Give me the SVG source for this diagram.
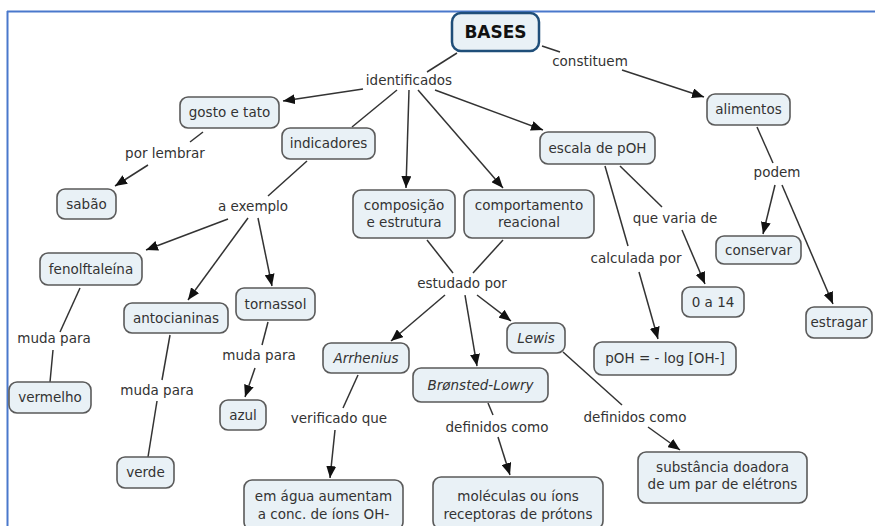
<svg xmlns="http://www.w3.org/2000/svg" width="875" height="526" viewBox="0 0 875 526">
<defs>
<marker id="ah" markerUnits="userSpaceOnUse" markerWidth="12" markerHeight="10" refX="12" refY="5" orient="auto">
<path d="M0,0 L12,5 L0,10 z" fill="#111"/>
</marker>
<style>
.n rect{fill:#e9f1f6;stroke:#5a5a5a;stroke-width:1.6}
text{font-family:"DejaVu Sans","Verdana",sans-serif;font-size:13.5px;fill:#333;text-anchor:middle}
.i text{font-style:italic}
#c line{stroke:#333;stroke-width:1.5}
#c line.a{marker-end:url(#ah)}
</style>
</defs>
<rect x="0" y="0" width="875" height="526" fill="#fff"/>
<line x1="7" y1="11.5" x2="875" y2="11.5" stroke="#4a78cc" stroke-width="2"/>
<line x1="7.5" y1="11" x2="7.5" y2="526" stroke="#4a78cc" stroke-width="2"/>

<g id="c">
<line x1="457" y1="53" x2="427" y2="72"/>
<line class="a" x1="363" y1="89" x2="283" y2="101"/>
<line x1="397" y1="90" x2="352" y2="127"/>
<line class="a" x1="409" y1="90" x2="406" y2="188"/>
<line class="a" x1="418" y1="90" x2="503" y2="188"/>
<line class="a" x1="435" y1="90" x2="543" y2="130"/>
<line x1="542" y1="46" x2="560" y2="52"/>
<line class="a" x1="622" y1="70" x2="704" y2="97"/>
<line x1="757" y1="127" x2="773" y2="163"/>
<line class="a" x1="775" y1="185" x2="763" y2="234"/>
<line class="a" x1="782" y1="185" x2="833" y2="304"/>
<line x1="605" y1="166" x2="628" y2="246"/>
<line class="a" x1="639" y1="272" x2="658" y2="339"/>
<line x1="620" y1="166" x2="662" y2="207"/>
<line class="a" x1="682" y1="230" x2="705" y2="284"/>
<line x1="203" y1="132" x2="190" y2="142"/>
<line class="a" x1="148" y1="165" x2="115" y2="186"/>
<line x1="307" y1="161" x2="268" y2="196"/>
<line class="a" x1="228" y1="219" x2="146" y2="250"/>
<line class="a" x1="248" y1="218" x2="188" y2="300"/>
<line class="a" x1="258" y1="218" x2="272" y2="286"/>
<line x1="80" y1="288" x2="60" y2="332"/>
<line x1="53" y1="350" x2="50" y2="382"/>
<line x1="170" y1="335" x2="162" y2="380"/>
<line x1="157" y1="401" x2="148" y2="457"/>
<line x1="268" y1="322" x2="262" y2="345"/>
<line class="a" x1="255" y1="368" x2="245" y2="397"/>
<line x1="427" y1="240" x2="453" y2="273"/>
<line x1="503" y1="240" x2="473" y2="273"/>
<line class="a" x1="445" y1="295" x2="391" y2="341"/>
<line class="a" x1="465" y1="295" x2="477" y2="366"/>
<line class="a" x1="477" y1="295" x2="511" y2="321"/>
<line x1="358" y1="375" x2="343" y2="408"/>
<line class="a" x1="335" y1="430" x2="330" y2="478"/>
<line x1="488" y1="403" x2="493" y2="415"/>
<line class="a" x1="498" y1="437" x2="510" y2="475"/>
<line x1="563" y1="352" x2="622" y2="405"/>
<line class="a" x1="648" y1="427" x2="680" y2="450"/>
</g>

<g id="lp">
<text x="409" y="85">identificados</text>
<text x="590" y="66">constituem</text>
<text x="165" y="158">por lembrar</text>
<text x="253" y="211">a exemplo</text>
<text x="462" y="288">estudado por</text>
<text x="636" y="263">calculada por</text>
<text x="675" y="223">que varia de</text>
<text x="777" y="177">podem</text>
<text x="54" y="343">muda para</text>
<text x="157" y="395">muda para</text>
<text x="259" y="360">muda para</text>
<text x="339" y="423">verificado que</text>
<text x="497" y="432">definidos como</text>
<text x="635" y="422">definidos como</text>
</g>

<g id="bases" class="n"><rect x="452" y="13" width="87" height="38" rx="9" style="stroke:#1f4e79;stroke-width:2.5"/><text x="495.5" y="38" style="font-weight:bold;font-size:17px;fill:#111">BASES</text></g>
<g id="gosto" class="n"><rect x="180" y="97" width="99" height="31" rx="8"/><text x="229.5" y="117">gosto e tato</text></g>
<g id="indicadores" class="n"><rect x="282" y="128" width="93" height="31" rx="8"/><text x="328.5" y="148">indicadores</text></g>
<g id="composicao" class="n"><rect x="353" y="190" width="102" height="48" rx="8"/><text x="404" y="210">composição</text><text x="404" y="227">e estrutura</text></g>
<g id="comportamento" class="n"><rect x="464" y="190" width="130" height="48" rx="8"/><text x="529" y="210">comportamento</text><text x="529" y="227">reacional</text></g>
<g id="escala" class="n"><rect x="540" y="132" width="115" height="32" rx="8"/><text x="597.5" y="152.5">escala de pOH</text></g>
<g id="alimentos" class="n"><rect x="707" y="94" width="83" height="31" rx="8"/><text x="748.5" y="114">alimentos</text></g>
<g id="sabao" class="n"><rect x="57" y="189" width="59" height="30" rx="8"/><text x="86.5" y="208.5">sabão</text></g>
<g id="fenol" class="n"><rect x="40" y="253" width="102" height="32" rx="8"/><text x="91" y="273.5">fenolftaleína</text></g>
<g id="antocianinas" class="n"><rect x="124" y="303" width="104" height="30" rx="8"/><text x="176" y="322.5">antocianinas</text></g>
<g id="tornassol" class="n"><rect x="236" y="288" width="79" height="32" rx="8"/><text x="275.5" y="308.5">tornassol</text></g>
<g id="vermelho" class="n"><rect x="9" y="382" width="82" height="31" rx="8"/><text x="50" y="402">vermelho</text></g>
<g id="verde" class="n"><rect x="117" y="457" width="57" height="31" rx="8"/><text x="145.5" y="477">verde</text></g>
<g id="azul" class="n"><rect x="220" y="400" width="46" height="30" rx="8"/><text x="243" y="419.5">azul</text></g>
<g id="arrhenius" class="n i"><rect x="323" y="343" width="86" height="30" rx="8"/><text x="366" y="362.5">Arrhenius</text></g>
<g id="bronsted" class="n i"><rect x="413" y="368" width="135" height="34" rx="8"/><text x="480.5" y="389.5">Brønsted-Lowry</text></g>
<g id="lewis" class="n i"><rect x="507" y="323" width="58" height="30" rx="8"/><text x="536" y="342.5">Lewis</text></g>
<g id="emagua" class="n"><rect x="244" y="480" width="159" height="50" rx="8"/><text x="323.5" y="501">em água aumentam</text><text x="323.5" y="519">a conc. de íons OH-</text></g>
<g id="moleculas" class="n"><rect x="433" y="477" width="170" height="52" rx="8"/><text x="518" y="501">moléculas ou íons</text><text x="518" y="519">receptoras de prótons</text></g>
<g id="substancia" class="n"><rect x="638" y="452" width="169" height="51" rx="8"/><text x="722.5" y="472">substância doadora</text><text x="722.5" y="489">de um par de elétrons</text></g>
<g id="poh" class="n"><rect x="594" y="342" width="142" height="33" rx="8"/><text x="665" y="363">pOH = - log [OH-]</text></g>
<g id="zero14" class="n"><rect x="682" y="287" width="62" height="30" rx="8"/><text x="713" y="306.5">0 a 14</text></g>
<g id="conservar" class="n"><rect x="716" y="236" width="85" height="28" rx="8"/><text x="758.5" y="254.5">conservar</text></g>
<g id="estragar" class="n"><rect x="806" y="307" width="66" height="31" rx="8"/><text x="839" y="327">estragar</text></g>
</svg>
